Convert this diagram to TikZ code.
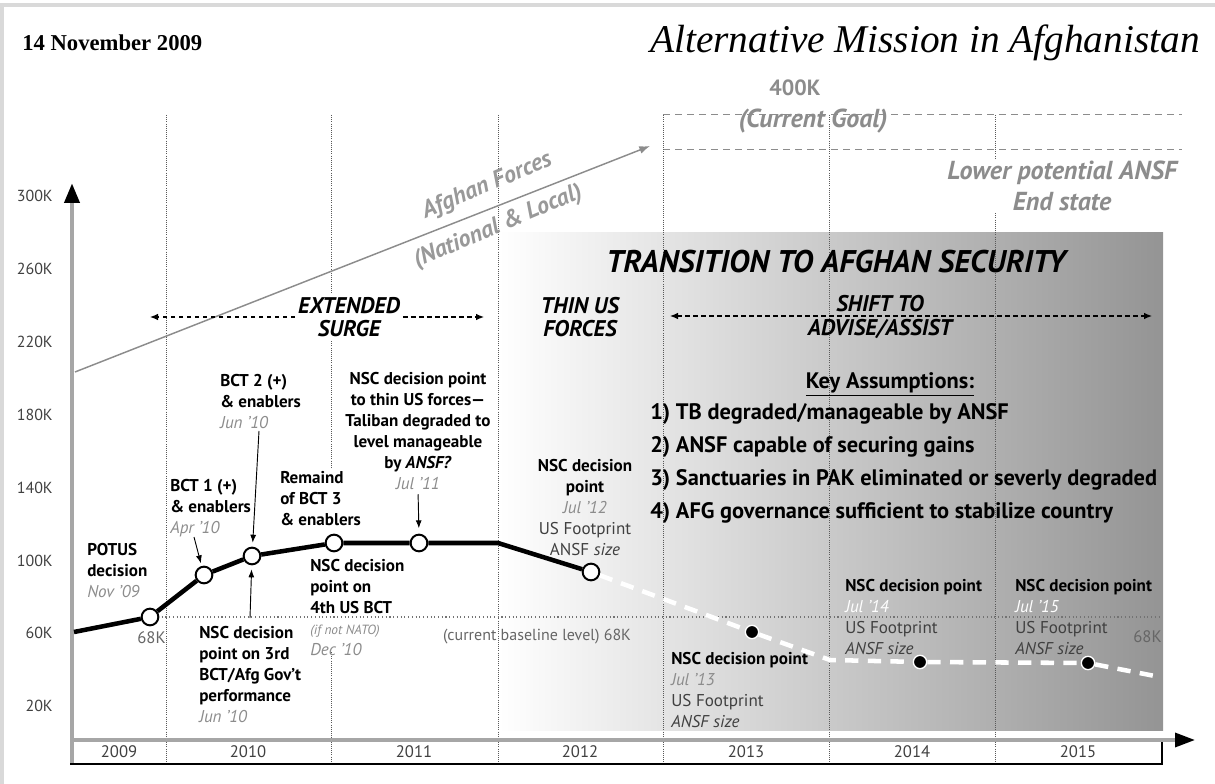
\documentclass[tikz,border=0pt]{standalone}
\usepackage{fontspec}
\setmainfont{Liberation Serif}
\setsansfont{PT Sans}
\usetikzlibrary{arrows.meta,positioning}

\newcommand{\datetag}[1]{{\color{black!45}\itshape\mdseries #1}}
\newcommand{\sizetag}[1]{{\color{black!75}\mdseries #1}}

\begin{document}
\begin{tikzpicture}[
    x=0.75pt, y=-0.75pt,
    every node/.style={font=\sffamily, inner sep=0pt},
    yearlab/.style={font=\sffamily\fontsize{12.5}{14}\selectfont, text=black!75},
    ticklab/.style={anchor=east, font=\sffamily\fontsize{12}{14}\selectfont, text=black!75},
    note/.style={font=\sffamily\bfseries\fontsize{12.8}{15.8}\selectfont, align=left, anchor=north west},
    phase/.style={font=\sffamily\bfseries\itshape\fontsize{17}{17.5}\selectfont, align=center},
    goaltxt/.style={font=\sffamily\bfseries\itshape\fontsize{19.5}{23}\selectfont, text=black!45, align=center},
    afgtxt/.style={font=\sffamily\bfseries\itshape\fontsize{18}{20}\selectfont, text=black!40, rotate=23},
    smallk/.style={text=black!60, font=\sffamily\fontsize{12.5}{14}\selectfont},
    yeardiv/.style={densely dotted, black!65, line width=0.6pt},
    lvlline/.style={dotted, black!55, line width=0.8pt},
    goalline/.style={black!45, line width=0.75pt, dash pattern=on 5pt off 4pt},
    spanhalf/.style={-{Latex[length=6pt,width=5pt]}, line width=0.9pt, dash pattern=on 3.5pt off 2.5pt},
    spanboth/.style={{Latex[length=6pt,width=5pt]}-{Latex[length=6pt,width=5pt]}, line width=0.9pt, dash pattern=on 3.5pt off 2.5pt},
    ptr/.style={-{Latex[length=6pt,width=4.5pt]}, line width=0.7pt},
    usline/.style={line width=3.4pt, line join=round},
    usfuture/.style={white, line width=3.4pt, dash pattern=on 10pt off 7pt},
    decpt/.style={circle, draw, fill=white, line width=1.5pt, minimum size=12.5pt},
    decdot/.style={circle, fill=black, draw=white, line width=1pt, minimum size=10pt}
]
    \useasboundingbox (0,0) rectangle (1215,784);
    \draw[black!15, line width=2.5pt] (2,784) -- (2,5) -- (1215,5);

    % transition backdrop
    \shade[left color=white, right color=black!42] (498,233) rectangle (1163,730);

    % headings
    \node (date) [anchor=west, font=\rmfamily\bfseries\fontsize{17}{20}\selectfont] at (22,43) {14 November 2009};
    \node (title) [anchor=east, font=\rmfamily\itshape\fontsize{29.5}{34}\selectfont] at (1200,43) {Alternative Mission in Afghanistan};

    % ANSF goals
    \draw[goalline] (663,115) -- (1182,115);
    \draw[goalline] (663,150) -- (1182,150);

    % year dividers
    \draw[yeardiv] (166,115) -- (166,763);
    \draw[yeardiv] (331,115) -- (331,468);
    \draw[yeardiv] (331,652) -- (331,763);
    \draw[yeardiv] (498,115) -- (498,763);
    \draw[yeardiv] (663,115) -- (663,763);
    \draw[yeardiv] (829,115) -- (829,763);
    \draw[yeardiv] (995,115) -- (995,763);
    \draw[lvlline] (158,617) -- (1162,617);

    \node (goal) [goaltxt, font=\sffamily\bfseries\fontsize{16.5}{20}\selectfont] at (795,88) {400K};
    \node (curgoal) [goaltxt] at (813,121) {(Current Goal)};
    \node (lowgoal) [goaltxt, fill=white, inner sep=2pt] at (1062,186) {Lower potential ANSF\\End state};

    % axes
    \draw[black!35, line width=3.5pt, -{Triangle[length=15pt,width=11pt,color=black]}] (72,765) -- (72,183);
    \draw[black!35, line width=2.5pt, -{Triangle[length=15pt,width=10.5pt,color=black]}] (72,740) -- (1195,740);
    \draw[line width=2.2pt] (70,764) -- (1162,764) -- (1162,742);

    \node (y300) [ticklab] at (53,196) {300K};
    \node (y260) [ticklab] at (53,269) {260K};
    \node (y220) [ticklab] at (53,342) {220K};
    \node (y180) [ticklab] at (53,415) {180K};
    \node (y140) [ticklab] at (53,488) {140K};
    \node (y100) [ticklab] at (53,561) {100K};
    \node (y60) [ticklab] at (53,633) {60K};
    \node (y20) [ticklab] at (53,706) {20K};

    \node (yr09) [yearlab] at (119,752) {2009};
    \node (yr10) [yearlab] at (248,752) {2010};
    \node (yr11) [yearlab] at (414,752) {2011};
    \node (yr12) [yearlab] at (580,752) {2012};
    \node (yr13) [yearlab] at (746,752) {2013};
    \node (yr14) [yearlab] at (912,752) {2014};
    \node (yr15) [yearlab] at (1078,752) {2015};

    % afghan forces
    \coordinate (afgfoot) at (75,372);
    \coordinate (afgtip) at (650,146);
    \draw[black!45, line width=1.1pt, -{Latex[length=8pt,width=6pt]}] (afgfoot) -- (afgtip);
    \node (afgtop) [afgtxt] at (487,186) {Afghan Forces};
    \node (afgbot) [afgtxt] at (498,227) {(National \& Local)};

    % phases
    \node (trans) [font=\sffamily\bfseries\itshape\fontsize{23.5}{26}\selectfont] at (836,262) {TRANSITION TO AFGHAN SECURITY};
    \node (surge) [phase, fill=white, inner sep=2pt] at (349,317) {EXTENDED\\SURGE};
    \coordinate (surgel) at (150,317);
    \coordinate (surger) at (484,317);
    \draw[spanhalf] (surge.west) -- (surgel);
    \draw[spanhalf] (surge.east) -- (surger);
    \node (thin) [phase] at (580,317) {THIN US\\FORCES};
    \node (shift) [phase] at (880,317) {SHIFT TO\\ADVISE/ASSIST};
    \coordinate (shiftl) at (670,316);
    \coordinate (shiftr) at (1152,316);
    \draw[spanboth] (shiftl) -- (shiftr);

    \node (keyhd) [font=\sffamily\bfseries\fontsize{16.8}{18}\selectfont] at (890,384) {\underline{Key Assumptions:}};
    \node (keylist) [anchor=north west, align=left, font=\sffamily\bfseries\fontsize{16.8}{24.75}\selectfont] at (650,403)
        {1) TB degraded/manageable by ANSF\\2) ANSF capable of securing gains\\3) Sanctuaries in PAK eliminated or severly degraded\\4) AFG governance sufficient to stabilize country};

    % labels
    \node (potustxt) [note] at (87,543) {POTUS\\decision\\\datetag{Nov '09}};
    \node (potusk) [smallk, anchor=north east] at (166,631) {68K};
    \node (bctonetxt) [note] at (170,479) {BCT 1 (+)\\\& enablers\\\datetag{Apr '10}};
    \node (bcttwotxt) [note] at (220,374) {BCT 2 (+)\\\& enablers\\\datetag{Jun '10}};
    \node (thintxt) [note, align=center, anchor=north] at (418,372) {NSC decision point\\to thin US forces---\\Taliban degraded to\\level manageable\\by \textit{ANSF?}\\\datetag{Jul '11}};
    \node (remaintxt) [note] at (280,471) {Remaind\\of BCT 3\\\& enablers};
    \node (fourtxt) [note] at (310,559) {NSC decision\\point on\\4th US BCT\\{\fontsize{10}{10}\selectfont\datetag{(if not NATO)}}\\\datetag{Dec '10}};
    \node (govtxt) [note] at (199,626) {NSC decision\\point on 3rd\\BCT/Afg Gov't\\performance\\\datetag{Jun '10}};
    \node (jul12txt) [note, align=center, anchor=north] at (585,459) {NSC decision\\point\\\datetag{Jul '12}\\\sizetag{US Footprint}\\\sizetag{ANSF \textit{size}}};
    \node (baseltxt) [smallk, font=\sffamily\fontsize{12}{14}\selectfont] at (537,637) {(current baseline level) 68K};
    \node (jul13txt) [note] at (671,652) {NSC decision point\\\datetag{Jul '13}\\\sizetag{US Footprint}\\\sizetag{\textit{ANSF size}}};
    \node (jul14txt) [note] at (845,579) {NSC decision point\\{\color{white}\itshape\mdseries Jul '14}\\\sizetag{US Footprint}\\\sizetag{\textit{ANSF size}}};
    \node (jul15txt) [note] at (1015,579) {NSC decision point\\{\color{white}\itshape\mdseries Jul '15}\\\sizetag{US Footprint}\\\sizetag{\textit{ANSF size}}};
    \node (endk) [smallk, anchor=north east] at (1162,630) {68K};

    % US force level
    \coordinate (usstart) at (74,632);
    \node (potus) [decpt] at (150,617) {};
    \node (bctone) [decpt] at (204,575) {};
    \node (bcttwo) [decpt] at (252,556) {};
    \node (bctthree) [decpt] at (334,543) {};
    \node (jul11) [decpt] at (419,543) {};
    \coordinate (thinstart) at (498,543);
    \node (jul12) [decpt] at (591,572) {};
    \node (jul13) [decdot] at (752,632) {};
    \coordinate (flatten) at (830,660);
    \node (jul14) [decdot] at (920,662) {};
    \node (jul15) [decdot] at (1088,663) {};
    \coordinate (fadeout) at (1160,677);

    \draw[usline] (usstart) -- (potus) -- (bctone) -- (bcttwo) -- (bctthree) -- (jul11) -- (thinstart) -- (jul12);
    \draw[usfuture] (jul12) -- (jul13) -- (flatten) -- (jul14) -- (jul15) -- (fadeout);

    % pointers
    \coordinate (bctonetail) at (194,537);
    \coordinate (bcttwotail) at (259,431);
    \coordinate (govtail) at (250,618);
    \draw[ptr, shorten >=2pt] (bctonetail) -- (bctone);
    \draw[ptr, shorten >=3pt] (bcttwotail) -- (bcttwo);
    \draw[ptr, shorten >=3pt] (govtail) -- (bcttwo);
    \draw[ptr, shorten <=3pt, shorten >=4pt] (thintxt.south) -- (jul11.north);
\end{tikzpicture}
\end{document}
